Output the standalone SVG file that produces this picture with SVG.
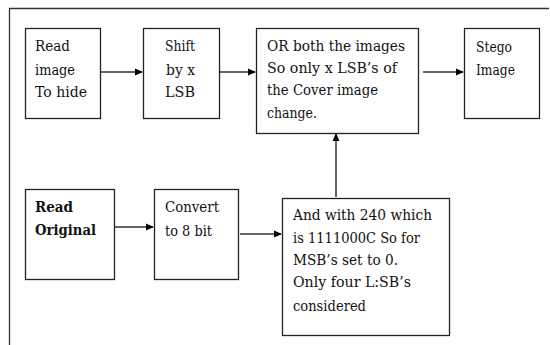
<svg xmlns="http://www.w3.org/2000/svg" width="550" height="345" viewBox="0 0 550 345">
<defs>
<marker id="ah" markerWidth="8" markerHeight="8" refX="7" refY="4" orient="auto" markerUnits="userSpaceOnUse">
<path d="M0,0.5 L8,4 L0,7.5 Z" fill="#000"/>
</marker>
</defs>
<style>
.box{fill:#fff;stroke:#222;stroke-width:1.3}
text{font-family:'DejaVu Serif','Liberation Serif',serif;font-size:14px;fill:#111}
.b{font-weight:bold}
.c{stroke:#333;stroke-width:1.5;fill:none;marker-end:url(#ah)}
</style>
<rect width="550" height="345" fill="#fff"/>
<g id="frame">
<path d="M9.5,345 V8.5 H549" fill="none" stroke="#333" stroke-width="1.3"/>
</g>
<g id="connectors">
<line class="c" x1="101" y1="72" x2="142" y2="72"/>
<line class="c" x1="220" y1="72" x2="255" y2="72"/>
<line class="c" x1="423" y1="72" x2="463" y2="72"/>
<line class="c" x1="115" y1="227" x2="153" y2="227"/>
<line class="c" x1="240" y1="234" x2="281" y2="234"/>
<line class="c" x1="336" y1="197" x2="336" y2="134"/>
</g>
<g id="n1">
<rect class="box" x="25.5" y="28.5" width="75" height="90"/>
<text x="35" y="51" textLength="35" lengthAdjust="spacingAndGlyphs">Read</text>
<text x="35" y="75" textLength="40" lengthAdjust="spacingAndGlyphs">image</text>
<text x="35" y="97" textLength="52" lengthAdjust="spacingAndGlyphs">To hide</text>
</g>
<g id="n2">
<rect class="box" x="143.5" y="28.5" width="76" height="90"/>
<text x="165" y="51" textLength="30" lengthAdjust="spacingAndGlyphs">Shift</text>
<text x="166" y="75" textLength="29" lengthAdjust="spacingAndGlyphs">by x</text>
<text x="165" y="97" textLength="30" lengthAdjust="spacingAndGlyphs">LSB</text>
</g>
<g id="n3">
<rect class="box" x="256.5" y="28.5" width="162" height="105"/>
<text x="267" y="51" textLength="138" lengthAdjust="spacingAndGlyphs">OR both the images</text>
<text x="267" y="73" textLength="130" lengthAdjust="spacingAndGlyphs">So only x LSB’s of</text>
<text x="267" y="95" textLength="111" lengthAdjust="spacingAndGlyphs">the Cover image</text>
<text x="267" y="118" textLength="50" lengthAdjust="spacingAndGlyphs">change.</text>
</g>
<g id="n4">
<rect class="box" x="464.5" y="28.5" width="75" height="90"/>
<text x="476" y="52" textLength="36" lengthAdjust="spacingAndGlyphs">Stego</text>
<text x="476" y="75" textLength="39" lengthAdjust="spacingAndGlyphs">Image</text>
</g>
<g id="n5">
<rect class="box" x="25.5" y="189.5" width="89" height="90"/>
<text class="b" x="35" y="212" textLength="38" lengthAdjust="spacingAndGlyphs">Read</text>
<text class="b" x="35" y="235" textLength="61" lengthAdjust="spacingAndGlyphs">Original</text>
</g>
<g id="n6">
<rect class="box" x="154.5" y="189.5" width="84" height="90"/>
<text x="165" y="212" textLength="54" lengthAdjust="spacingAndGlyphs">Convert</text>
<text x="165" y="236" textLength="47" lengthAdjust="spacingAndGlyphs">to 8 bit</text>
</g>
<g id="n7">
<rect class="box" x="282.5" y="198.5" width="167" height="137"/>
<text x="293" y="220" textLength="139" lengthAdjust="spacingAndGlyphs">And with 240 which</text>
<text x="293" y="243" textLength="127" lengthAdjust="spacingAndGlyphs">is 1111000C So for</text>
<text x="293" y="265" textLength="105" lengthAdjust="spacingAndGlyphs">MSB’s set to 0.</text>
<text x="293" y="287" textLength="118" lengthAdjust="spacingAndGlyphs">Only four L:SB’s</text>
<text x="293" y="311" textLength="73" lengthAdjust="spacingAndGlyphs">considered</text>
</g>
</svg>
